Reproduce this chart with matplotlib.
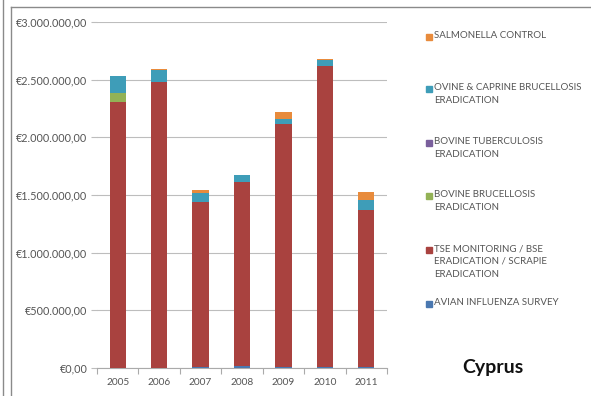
import matplotlib
matplotlib.use("Agg")
import matplotlib.pyplot as plt
from matplotlib.lines import Line2D
from matplotlib.patches import Rectangle
from matplotlib.ticker import FuncFormatter
import numpy as np

years = ["2005", "2006", "2007", "2008", "2009", "2010", "2011"]

avian_influenza = [0, 0, 12000, 15000, 12000, 12000, 12000]
tse_bse_scrapie = [2306000, 2480000, 1427000, 1600000, 2104000, 2606000, 1355000]
bovine_brucellosis = [78000, 0, 0, 0, 0, 0, 0]
bovine_tuberculosis = [0, 0, 0, 0, 0, 0, 0]
ovine_caprine_brucellosis = [148000, 100000, 78000, 56000, 43000, 51000, 90000]
salmonella_control = [0, 10000, 26000, 0, 61000, 10000, 66000]

series = [
    ("AVIAN INFLUENZA SURVEY", avian_influenza, "#4A78B0"),
    ("TSE MONITORING / BSE\nERADICATION / SCRAPIE\nERADICATION", tse_bse_scrapie, "#A9423F"),
    ("BOVINE BRUCELLOSIS\nERADICATION", bovine_brucellosis, "#93B256"),
    ("BOVINE TUBERCULOSIS\nERADICATION", bovine_tuberculosis, "#7A5F9C"),
    ("OVINE & CAPRINE BRUCELLOSIS\nERADICATION", ovine_caprine_brucellosis, "#3E9DB8"),
    ("SALMONELLA CONTROL", salmonella_control, "#E88B3C"),
]

plt.rcParams["font.family"] = ["Lato", "DejaVu Sans"]

fig = plt.figure(figsize=(5.91, 3.96), dpi=100)
ax = fig.add_axes([97 / 591, 1 - 368 / 396, 290 / 591, 346 / 396])

x = np.arange(len(years))
bottom = np.zeros(len(years))
for name, vals, color in series:
    v = np.array(vals, dtype=float)
    ax.bar(x, v, width=0.39, bottom=bottom, color=color, zorder=3)
    bottom += v

ax.set_xlim(-0.5, len(years) - 0.5)
ax.set_ylim(0, 3000000)
ax.set_yticks(np.arange(0, 3000001, 500000))


def euro(v, pos):
    s = f"{int(round(v)):,}".replace(",", ".")
    return f"€{s},00"


ax.yaxis.set_major_formatter(FuncFormatter(euro))
ax.yaxis.grid(True, color="#BDBDBD", linewidth=0.8, zorder=0)
ax.set_xticks(x)
ax.set_xticklabels(years)
ax.set_xticks(np.arange(-0.5, len(years), 1.0), minor=True)
ax.tick_params(axis="x", which="major", length=0, labelsize=7.3, colors="#555555", pad=7)
ax.tick_params(axis="x", which="minor", length=4, color="#AAAAAA", width=0.8)
ax.tick_params(axis="y", length=4, color="#BDBDBD", width=0.8, labelsize=7.8,
               labelcolor="#555555", pad=3)
for side in ("top", "right", "left"):
    ax.spines[side].set_visible(False)
ax.spines["bottom"].set_color("#AAAAAA")
ax.spines["bottom"].set_linewidth(0.8)

# legend, drawn top entry first
legend_rows = [
    (37, "SALMONELLA CONTROL", "#E88B3C"),
    (89, "OVINE & CAPRINE BRUCELLOSIS\nERADICATION", "#3E9DB8"),
    (143, "BOVINE TUBERCULOSIS\nERADICATION", "#7A5F9C"),
    (196, "BOVINE BRUCELLOSIS\nERADICATION", "#93B256"),
    (250, "TSE MONITORING / BSE\nERADICATION / SCRAPIE\nERADICATION", "#A9423F"),
    (304, "AVIAN INFLUENZA SURVEY", "#4A78B0"),
]
for ypix, label, color in legend_rows:
    fig.add_artist(Rectangle((426 / 591, 1 - (ypix + 3) / 396), 6 / 591, 6 / 396,
                             transform=fig.transFigure, color=color))
    fig.text(434 / 591, 1 - (ypix - 6) / 396, label, fontsize=7.0, color="#555555",
             va="top", ha="left", linespacing=1.55)

fig.text(493 / 591, 1 - 368 / 396, "Cyprus", fontsize=14, fontweight="bold",
         ha="center", va="center", color="#111111")

# surrounding frame lines
frame = "#8A8A8A"
fig.add_artist(Line2D([11 / 591, 1], [1 - 7 / 396, 1 - 7 / 396], color=frame, lw=1.0,
                      transform=fig.transFigure))
fig.add_artist(Line2D([11 / 591, 11 / 591], [0, 1 - 7 / 396], color=frame, lw=1.0,
                      transform=fig.transFigure))
fig.add_artist(Line2D([2.5 / 591, 2.5 / 591], [0, 1], color=frame, lw=1.0,
                      transform=fig.transFigure))

fig.savefig("out.png", dpi=100)
